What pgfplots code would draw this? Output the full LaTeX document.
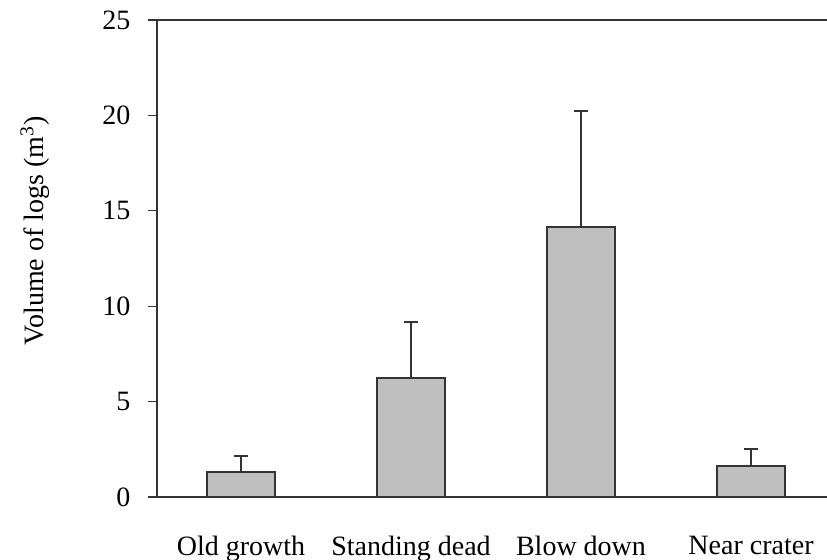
\documentclass[border=0pt]{standalone}
\usepackage{fontspec}
\setmainfont{Liberation Serif}
\usepackage{pgfplots}
\pgfplotsset{compat=1.18}
\definecolor{barfill}{HTML}{BFBFBF}
\definecolor{edge}{HTML}{333333}
\begin{document}
\fontsize{14}{17}\selectfont
\begin{tikzpicture}
\useasboundingbox (0,0) rectangle (413.5pt,280pt);
\begin{axis}[
  at={(78.5pt,31.5pt)}, anchor=south west,
  scale only axis, width=335pt, height=238.5pt,
  xmin=-0.494, xmax=3.447, ymin=0, ymax=25,
  axis x line=box, axis y line=left,
  axis line style={-, draw=edge, line width=0.8pt},
  xtick=data, xticklabels={Old growth, Standing dead, Blow down, Near crater},
  x tick style={draw=none},
  xticklabel style={yshift=-10pt},
  ytick={0,5,10,15,20,25},
  y tick style={draw=edge, line width=0.6pt},
  tick align=outside, major tick length=4.5pt,
  /pgf/number format/assume math mode=true,
  yticklabel style={xshift=-4pt},
  ylabel={Volume of logs (m\textsuperscript{3})},
  every axis y label/.style={at={(rel axis cs:-0.182,0.558)}, anchor=center, rotate=90},
  ybar, bar width=34pt,
  clip=false,
]
\addplot[fill=barfill, draw=edge, line width=0.9pt,
  error bars/.cd, y dir=plus, y explicit,
  error bar style={line width=0.9pt, draw=edge},
  error mark options={rotate=90, mark size=3.3pt, line width=0.9pt, draw=edge}]
coordinates {
  (0,1.31) +- (0,0.84)
  (1,6.24) +- (0,2.93)
  (2,14.15) +- (0,6.08)
  (3,1.62) +- (0,0.90)
};
\end{axis}
\end{tikzpicture}
\end{document}
